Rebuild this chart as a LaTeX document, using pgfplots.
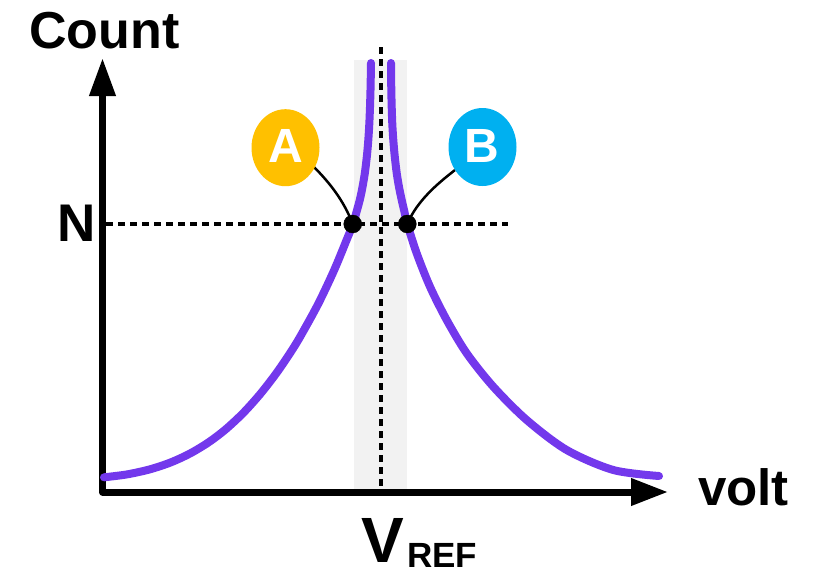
\documentclass[border=0pt]{standalone}
\usepackage{pgfplots}
\pgfplotsset{compat=1.18}
\usepackage{fontspec}
\setmainfont{Liberation Sans}
\usetikzlibrary{arrows.meta,shapes.geometric}
\definecolor{curvepurple}{HTML}{7338EC}
\definecolor{labA}{HTML}{FFC000}
\definecolor{labB}{HTML}{00B0F0}
\definecolor{band}{HTML}{F2F2F2}
\begin{document}
\begin{tikzpicture}
\begin{axis}[
  width=818pt, height=576pt, scale only axis,
  xmin=0, xmax=818, ymin=0, ymax=576, y dir=reverse,
  hide axis, clip=false,
]
% shaded band
\addplot[draw=none, fill=band] coordinates {(354,60)(407,60)(407,490)(354,490)} -- cycle;
% dotted lines
\addplot[line width=3.5pt, dash pattern=on 7pt off 5pt, black] coordinates {(381,47)(381,490)};
\addplot[line width=3.5pt, dash pattern=on 7pt off 5pt, black] coordinates {(106,224)(508,224)};
% axes
\addplot[line width=7pt, line join=round, black,
  {Triangle[length=38pt,width=25pt]}-{Triangle[length=37pt,width=26pt]}]
  coordinates {(102.5,58)(102.5,492)(668,492)};
% curve left branch
\addplot[smooth, line width=8pt, line cap=round, curvepurple] coordinates {
(104,477.3)(127,474.4)(150,469.3)(171,462.3)(190,453.5)(208,442.7)(225,429.9)
(243,413.2)(260,394.3)(276,373.7)(290,353.2)(300,337)(318,304.3)(334,270.5)
(347,239)(353,224)(356.5,212)(360,199)(362.5,187)(365,172)(367,155)(368.3,140)
(369.3,124)(370,107)(370.5,90)(370.8,75)(371,63)};
% curve right branch
\addplot[smooth, line width=8pt, line cap=round, curvepurple] coordinates {
(391,63)(391.1,75)(391.3,90)(391.7,107)(392.3,124)(393.3,140)(394.7,156)(396.7,173)
(399,187)(401.7,200)(404.5,212)(407.3,224)(416.7,253.3)(430,286.7)(446.7,320)
(466.7,353.3)(493.3,386.7)(526.7,420)(566.7,450)(613.3,470)(659,476)};
% connectors
\draw[line width=2.5pt] (axis cs:313,166) .. controls (axis cs:330,183) and (axis cs:344,201) .. (axis cs:352.7,224);
\draw[line width=2.5pt] (axis cs:455,170) .. controls (axis cs:437,184) and (axis cs:417,201) .. (axis cs:407.3,224);
% points
\addplot[only marks, mark=*, mark size=9pt, black] coordinates {(352.7,224)(407.3,224)};
% labels A, B
\node[ellipse, fill=labA, minimum width=68pt, minimum height=77pt, inner sep=0pt] at (axis cs:285.5,147.7) {};
\node[inner sep=0pt, white, font=\fontsize{48}{48}\selectfont\bfseries] at (axis cs:285.5,145.5) {A};
\node[ellipse, fill=labB, minimum width=68pt, minimum height=78pt, inner sep=0pt] at (axis cs:482.5,147) {};
\node[inner sep=0pt, white, font=\fontsize{48}{48}\selectfont\bfseries] at (axis cs:481.5,145.5) {B};
% texts
\node[inner sep=0pt, font=\fontsize{52}{52}\selectfont\bfseries] at (axis cs:104.5,31) {Count};
\node[inner sep=0pt, font=\fontsize{53}{53}\selectfont\bfseries] at (axis cs:77,223) {N};
\node[inner sep=0pt, font=\fontsize{51}{51}\selectfont\bfseries] at (axis cs:743.5,487) {volt};
\node[inner sep=0pt, font=\fontsize{64}{64}\selectfont\bfseries] at (axis cs:383,540) {V};
\node[inner sep=0pt, font=\fontsize{35}{35}\selectfont\bfseries] at (axis cs:442,555.5) {REF};
\coordinate (P1) at (axis cs:0,0);
\coordinate (P2) at (axis cs:818,576);
\end{axis}
\pgfresetboundingbox
\path (P1) rectangle (P2);
\end{tikzpicture}
\end{document}
